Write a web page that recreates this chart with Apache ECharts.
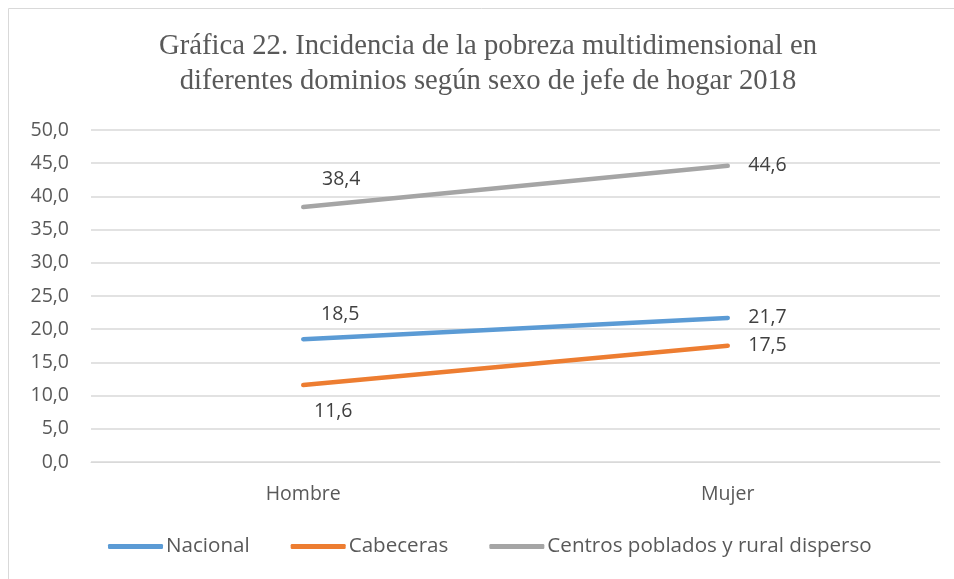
<!DOCTYPE html>
<html><head><meta charset="utf-8">
<script src="https://cdn.jsdelivr.net/npm/echarts@6/dist/echarts.min.js"></script>
<style>html,body{margin:0;padding:0;background:#fff}#c{width:954px;height:579px}</style>
</head><body><div id="c"></div>
<script>
const categories = ['Hombre', 'Mujer'];
const nacional = [18.5, 21.7];
const cabeceras = [11.6, 17.5];
const centros = [38.4, 44.6];
const yTicks = [0, 5, 10, 15, 20, 25, 30, 35, 40, 45, 50];

const fmt = v => v.toFixed(1).replace('.', ',');
const labelFont = {fontFamily: 'Open Sans, Noto Sans, sans-serif', fontSize: 19.5, color: '#404040'};

function mkData(vals, hombreLabel) {
  return vals.map((v, i) => i === 0
    ? {value: v, label: Object.assign({}, hombreLabel)}
    : {value: v, label: {position: 'right', distance: 20, offset: [0, 0]}});
}

function mkSeries(name, vals, color, hombreLabel) {
  return {
    name: name, type: 'line', data: mkData(vals, hombreLabel),
    lineStyle: {color: color, width: 4.5, cap: 'round'},
    itemStyle: {color: color},
    symbol: 'circle', symbolSize: 1, showSymbol: true,
    label: Object.assign({show: true, formatter: p => fmt(p.value)}, labelFont)
  };
}

const chart = echarts.init(document.getElementById('c'), null, {renderer: 'canvas'});
chart.setOption({
  animation: false,
  title: {
    text: 'Gráfica 22. Incidencia de la pobreza multidimensional en\ndiferentes dominios según sexo de jefe de hogar 2018',
    left: 483, top: 24, textAlign: 'center',
    textStyle: {fontFamily: 'Liberation Serif, Times New Roman, serif', fontWeight: 'normal', fontSize: 28.7, color: '#595959', lineHeight: 35}
  },
  graphic: [{type: 'rect', shape: {x: 8.5, y: 8.5, width: 960, height: 600}, style: {fill: 'none', stroke: '#D9D9D9', lineWidth: 1}, silent: true}],
  legend: {
    top: 531, left: 103, itemWidth: 55, itemHeight: 5, itemGap: 41,
    icon: 'roundRect',
    textStyle: {fontFamily: 'Open Sans, Noto Sans, sans-serif', fontSize: 20.6, color: '#595959', padding: [0, 0, 0, -2]},
    data: ['Nacional', 'Cabeceras', 'Centros poblados y rural disperso']
  },
  grid: {left: 91, right: 14, top: 130, bottom: 117, containLabel: false},
  xAxis: {
    type: 'category', data: categories, boundaryGap: true,
    axisLine: {show: true, lineStyle: {color: '#D9D9D9', width: 1}},
    axisTick: {show: false},
    axisLabel: {margin: 22, fontFamily: 'Open Sans, Noto Sans, sans-serif', fontSize: 19.5, color: '#595959'}
  },
  yAxis: {
    type: 'value', min: yTicks[0], max: yTicks[yTicks.length - 1], interval: 5,
    axisLine: {show: false}, axisTick: {show: false},
    splitLine: {lineStyle: {color: '#D9D9D9', width: 1.5}},
    axisLabel: {margin: 22, formatter: v => fmt(v), fontFamily: 'Open Sans, Noto Sans, sans-serif', fontSize: 19.5, color: '#595959'}
  },
  series: [
    mkSeries('Nacional', nacional, '#5B9BD5', {position: 'top', offset: [37, -9]}),
    mkSeries('Cabeceras', cabeceras, '#ED7D31', {position: 'bottom', offset: [30, 11]}),
    mkSeries('Centros poblados y rural disperso', centros, '#A5A5A5', {position: 'top', offset: [38, -12]})
  ]
});
</script></body></html>
